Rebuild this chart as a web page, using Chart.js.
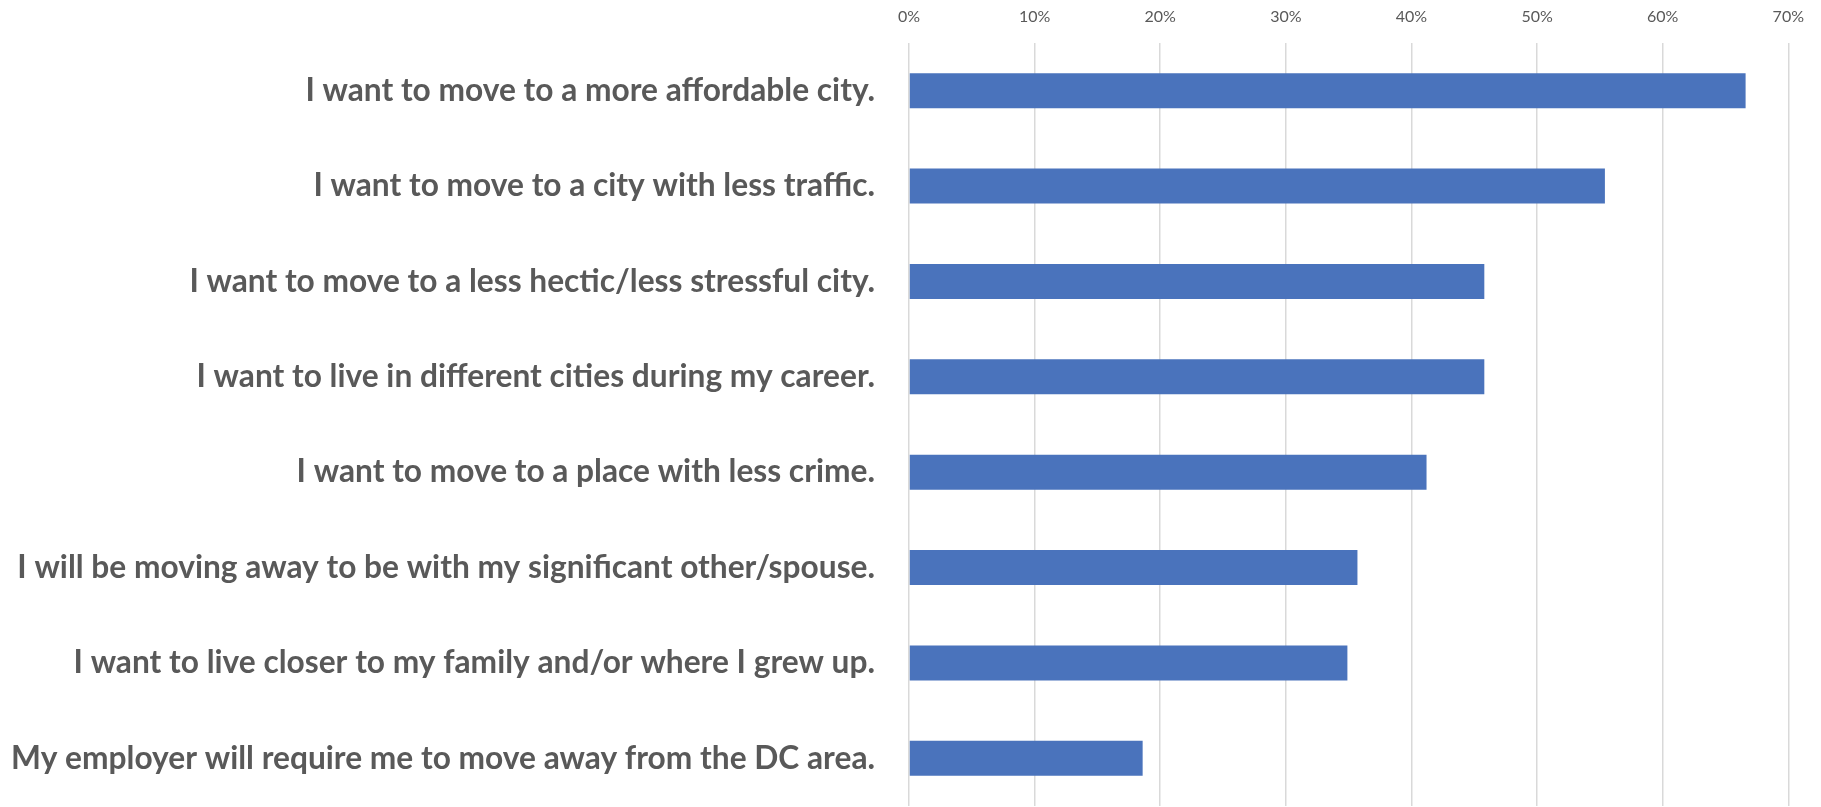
<!DOCTYPE html>
<html>
<head>
<meta charset="utf-8">
<title>Reasons for moving</title>
<script src="https://cdn.jsdelivr.net/npm/chart.js@4"></script>
<style>
  html, body { margin: 0; padding: 0; background: #fff; }
  #wrap { position: relative; width: 1821px; height: 807px; }
</style>
</head>
<body>
<div id="wrap"><canvas id="reasons-chart"></canvas></div>
<script>
const reasons = [
  'I want to move to a more affordable city.',
  'I want to move to a city with less traffic.',
  'I want to move to a less hectic/less stressful city.',
  'I want to live in different cities during my career.',
  'I want to move to a place with less crime.',
  'I will be moving away to be with my significant other/spouse.',
  'I want to live closer to my family and/or where I grew up.',
  'My employer will require me to move away from the DC area.'
];
const shares = [66.6, 55.4, 45.8, 45.8, 41.2, 35.7, 34.9, 18.6];
const tickSteps = [0, 10, 20, 30, 40, 50, 60, 70];

const ctx = document.getElementById('reasons-chart');
const myChart = new Chart(ctx, {
  type: 'bar',
  data: {
    labels: reasons,
    datasets: [{
      data: shares,
      backgroundColor: '#4A73BC',
      borderWidth: 0,
      categoryPercentage: 1,
      barPercentage: 0.366
    }]
  },
  options: {
    indexAxis: 'y',
    responsive: true,
    maintainAspectRatio: false,
    animation: false,
    layout: { padding: { left: 0, right: 24, top: 0, bottom: 0 } },
    plugins: {
      legend: { display: false },
      tooltip: { enabled: false }
    },
    scales: {
      x: {
        position: 'top',
        min: tickSteps[0],
        max: tickSteps[tickSteps.length - 1],
        afterBuildTicks: function(scale) {
          scale.ticks = tickSteps.map(v => ({ value: v }));
        },
        afterFit: function(scale) { scale.height = 43; },
        grid: { color: '#d9d9d9', lineWidth: 1.5, drawTicks: false },
        border: { display: false },
        ticks: {
          padding: 17,
          color: '#595959',
          font: { family: 'Lato', size: 16 },
          callback: v => v + '%'
        }
      },
      y: {
        afterFit: function(scale) { scale.width = 909; },
        // invisible tick marks keep the gap between labels and bars
        grid: { display: true, drawOnChartArea: false, color: 'transparent', drawTicks: true, tickLength: 34 },
        border: { display: false },
        ticks: {
          padding: 0,
          autoSkip: false,
          color: '#595959',
          // tiny line height so the labels don't pad the plot area
          font: { family: 'Lato', size: 31.7, weight: 'bold', lineHeight: '2px' }
        }
      }
    }
  }
});
</script>
</body>
</html>
